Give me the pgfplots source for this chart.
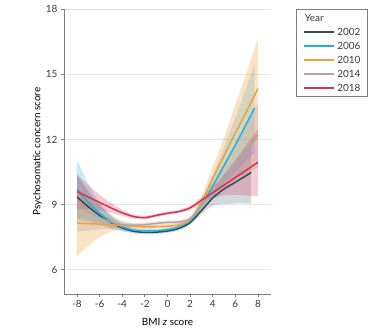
\documentclass[border=0pt]{standalone}
\usepackage{pgfplots}
\pgfplotsset{compat=1.18}
\usepackage{pgfplotstable}
\usepgfplotslibrary{fillbetween}
\usepackage{fontspec}
\setmainfont{Lato}

\definecolor{c02}{HTML}{2E4D5F}
\definecolor{c06}{HTML}{1DB2E6}
\definecolor{c10}{HTML}{F0A13A}
\definecolor{c14}{HTML}{B8A39F}
\definecolor{c18}{HTML}{D6334F}
\definecolor{axisgray}{HTML}{7F7F7F}
\definecolor{gridgray}{HTML}{E4E4E4}
\definecolor{labelgray}{HTML}{3A3A3A}

\pgfplotstableread{
x y lo hi
-8 9.35 8.30 10.40
-7 8.90 8.20 9.60
-6 8.50 8.05 8.95
-5 8.17 7.90 8.45
-4 7.92 7.77 8.07
-3 7.77 7.67 7.87
-2 7.72 7.63 7.81
-1 7.73 7.65 7.81
0 7.78 7.70 7.86
1 7.90 7.82 7.98
2 8.17 8.07 8.27
3 8.72 8.55 8.90
4 9.30 8.95 9.65
5 9.72 9.02 10.42
6 10.03 9.05 11.00
7 10.35 9.05 11.65
7.4 10.48 9.05 11.90
}\tA
\pgfplotstableread{
x y lo hi
-8 9.70 8.40 11.05
-7 9.10 8.30 9.95
-6 8.60 8.12 9.10
-5 8.22 7.95 8.50
-4 7.97 7.82 8.12
-3 7.83 7.73 7.93
-2 7.80 7.71 7.89
-1 7.80 7.72 7.88
0 7.85 7.77 7.93
1 7.97 7.89 8.05
2 8.27 8.16 8.38
3 8.95 8.70 9.20
4 9.85 9.35 10.35
5 10.80 9.95 11.65
6 11.75 10.50 13.00
7 12.75 11.05 14.45
7.7 13.45 11.40 15.50
}\tB
\pgfplotstableread{
x y lo hi
-8 8.15 6.62 9.70
-7 8.12 7.10 9.15
-6 8.10 7.50 8.70
-5 8.07 7.75 8.40
-4 8.04 7.87 8.21
-3 8.00 7.88 8.12
-2 7.97 7.87 8.07
-1 7.98 7.89 8.07
0 8.00 7.91 8.09
1 8.07 7.98 8.16
2 8.30 8.19 8.41
3 9.10 8.85 9.35
4 10.20 9.65 10.75
5 11.25 10.40 12.10
6 12.30 11.00 13.60
7 13.30 11.55 15.10
8 14.35 12.00 16.70
}\tC
\pgfplotstableread{
x y lo hi
-8 9.00 7.75 10.30
-7 8.68 7.80 9.60
-6 8.40 7.85 9.00
-5 8.20 7.88 8.55
-4 8.08 7.93 8.25
-3 8.05 7.95 8.15
-2 8.08 7.99 8.17
-1 8.13 8.04 8.22
0 8.18 8.09 8.27
1 8.20 8.11 8.29
2 8.35 8.25 8.45
3 8.95 8.75 9.15
4 9.65 9.30 10.00
5 10.30 9.75 10.85
6 10.95 10.15 11.75
7 11.60 10.45 12.75
8 12.20 10.70 13.70
}\tD
\pgfplotstableread{
x y lo hi
-8 9.60 8.80 10.40
-7 9.35 8.80 9.90
-6 9.10 8.75 9.45
-5 8.85 8.63 9.07
-4 8.62 8.48 8.76
-3 8.45 8.35 8.55
-2 8.40 8.32 8.48
-1 8.50 8.42 8.58
0 8.60 8.53 8.67
1 8.68 8.60 8.76
2 8.85 8.76 8.94
3 9.20 9.05 9.35
4 9.55 9.30 9.80
5 9.90 9.42 10.38
6 10.25 9.45 11.05
7 10.60 9.42 11.78
8 10.95 9.38 12.50
}\tE

\begin{document}
\begin{tikzpicture}
\begin{axis}[
  at={(64bp,37bp)}, anchor=south west,
  scale only axis, width=207bp, height=284.7bp,
  xmin=-9.15, xmax=9.15, ymin=4.88, ymax=18,
  axis lines=left,
  axis line style={-, draw=axisgray, line width=0.8bp},
  xtick={-8,-6,...,8}, ytick={6,9,12,15,18},
  tick style={draw=axisgray, line width=0.8bp},
  major tick length=3bp, tick align=outside,
  ymajorgrids, grid style={draw=gridgray, line width=1bp},
  /pgf/number format/assume math mode=true,
  tick label style={font=\fontsize{10}{12}\selectfont, text=labelgray},
  label style={font=\fontsize{10}{12}\selectfont, text=labelgray},
  xlabel={BMI \textit{z} score},
  ylabel={Psychosomatic concern score},
  every axis x label/.style={at={(axis description cs:0.5,-0.0983)}, anchor=center},
  every axis y label/.style={at={(axis description cs:-0.128,0.5)}, anchor=center, rotate=90},
  legend style={at={(axis description cs:1.1208,1.001)}, anchor=north west,
    draw=axisgray, line width=0.6bp, inner xsep=6.5bp, inner ysep=5bp,
    font=\fontsize{10}{12}\selectfont, text=labelgray,
    nodes={inner sep=0pt, text height=7.3bp, text depth=0bp},
    row sep=6.7bp,
    /tikz/every odd column/.append style={column sep=3bp}},
  legend cell align=left,
  legend image code/.code={\draw[#1, line width=1.5bp] (0bp,0bp) -- (30bp,0bp);},
]
\addplot[name path=a1, draw=none, forget plot, smooth] table[x=x,y=hi] {\tA};
\addplot[name path=a2, draw=none, forget plot, smooth] table[x=x,y=lo] {\tA};
\addplot[fill=c02!70, fill opacity=0.3, draw=none, forget plot] fill between[of=a1 and a2];
\addplot[name path=b1, draw=none, forget plot, smooth] table[x=x,y=hi] {\tB};
\addplot[name path=b2, draw=none, forget plot, smooth] table[x=x,y=lo] {\tB};
\addplot[fill=c06, fill opacity=0.25, draw=none, forget plot] fill between[of=b1 and b2];
\addplot[name path=c1, draw=none, forget plot, smooth] table[x=x,y=hi] {\tC};
\addplot[name path=c2, draw=none, forget plot, smooth] table[x=x,y=lo] {\tC};
\addplot[fill=c10, fill opacity=0.3, draw=none, forget plot] fill between[of=c1 and c2];
\addplot[name path=d1, draw=none, forget plot, smooth] table[x=x,y=hi] {\tD};
\addplot[name path=d2, draw=none, forget plot, smooth] table[x=x,y=lo] {\tD};
\addplot[fill=c14, fill opacity=0.3, draw=none, forget plot] fill between[of=d1 and d2];
\addplot[name path=e1, draw=none, forget plot, smooth] table[x=x,y=hi] {\tE};
\addplot[name path=e2, draw=none, forget plot, smooth] table[x=x,y=lo] {\tE};
\addplot[fill=c18, fill opacity=0.25, draw=none, forget plot] fill between[of=e1 and e2];

\addlegendimage{empty legend}
\addlegendentry{\rlap{\hspace*{-33bp}Year}}
\addplot[c02, line width=1.5bp, smooth] table[x=x,y=y] {\tA};
\addlegendentry{2002}
\addplot[c06, line width=1.5bp, smooth] table[x=x,y=y] {\tB};
\addlegendentry{2006}
\addplot[c10, line width=1.5bp, smooth] table[x=x,y=y] {\tC};
\addlegendentry{2010}
\addplot[c14, line width=1.5bp, smooth] table[x=x,y=y] {\tD};
\addlegendentry{2014}
\addplot[c18, line width=1.5bp, smooth] table[x=x,y=y] {\tE};
\addlegendentry{2018}
\end{axis}
\pgfresetboundingbox
\path[use as bounding box] (0,0) rectangle (374bp,331bp);
\end{tikzpicture}
\end{document}
